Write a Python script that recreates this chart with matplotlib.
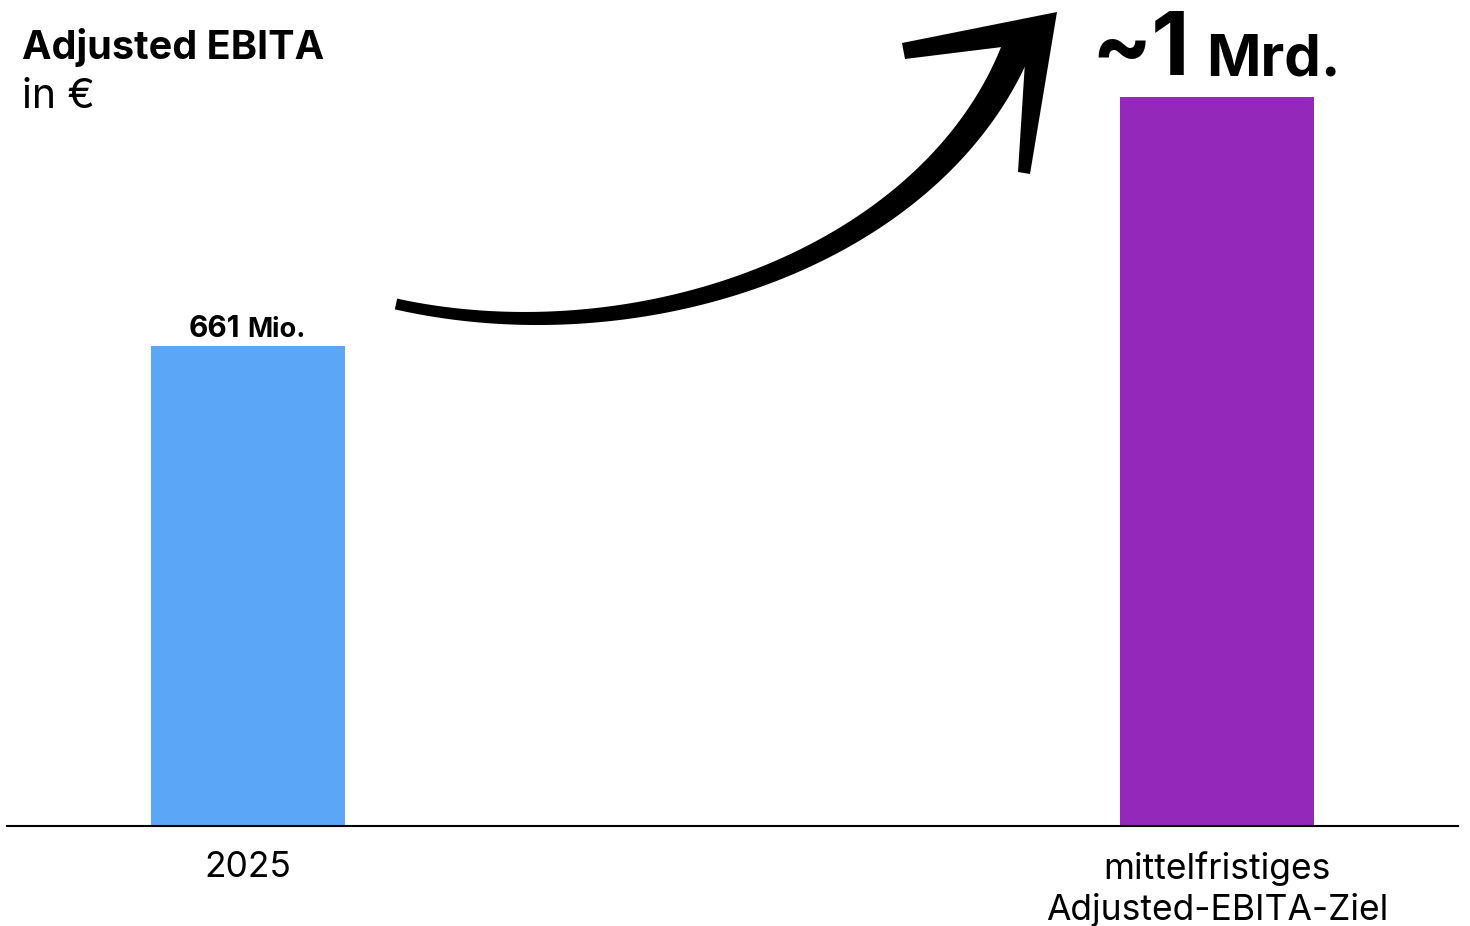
import numpy as np
import matplotlib.pyplot as plt
from matplotlib.patches import Polygon

# =====================
# DATA
# =====================
categories = ["2025", "mittelfristiges\nAdjusted-EBITA-Ziel"]
values = [661, 1003]
colors = ["#5BA6F6", "#9328BA"]
value_big = ["661", "~1"]
value_unit = ["Mio.", "Mrd."]

W, H = 1470, 926

plt.rcParams.update({
    "font.family": ["Inter", "DejaVu Sans"],
})

fig = plt.figure(figsize=(W / 100, H / 100), dpi=100)

# main axes: baseline at y=826 px, spans x 7..1458 px
ax = fig.add_axes([7 / W, (H - 826) / H, 1451 / W, 826 / H])
x = np.arange(len(values))
ax.bar(x, values, width=0.2, color=colors)
ax.set_xlim(-0.2487, 1.2487)
ax.set_ylim(0, 1137)

for s in ["top", "right", "left"]:
    ax.spines[s].set_visible(False)
ax.spines["bottom"].set_linewidth(1.5)
ax.set_yticks([])
ax.set_xticks(x)
ax.set_xticklabels(categories, fontsize=25.5, linespacing=1.27)
ax.tick_params(axis="x", length=0, pad=18)

# value labels
ax.annotate(value_big[0], (x[0], values[0]), xytext=(-5.8, 6.5), textcoords="offset points",
            ha="right", va="baseline", fontsize=21.5, fontweight="bold")
ax.annotate(value_unit[0], (x[0], values[0]), xytext=(-0.7, 6.5), textcoords="offset points",
            ha="left", va="baseline", fontsize=19.5, fontweight="bold")
ax.annotate(value_big[1], (x[1], values[1]), xytext=(-19.5, 16), textcoords="offset points",
            ha="right", va="baseline", fontsize=64, fontweight="bold")
ax.annotate(value_unit[1], (x[1], values[1]), xytext=(-7.5, 16), textcoords="offset points",
            ha="left", va="baseline", fontsize=42, fontweight="bold")

# title
fig.text(22 / W, 1 - 59 / H, "Adjusted EBITA", fontsize=28.5, fontweight="bold",
         ha="left", va="baseline")
fig.text(22 / W, 1 - 108 / H, "in €", fontsize=29.5, ha="left", va="baseline")

# =====================
# ARROW (decoration layer in pixel units)
# =====================
ov = fig.add_axes([0, 0, 1, 1])
ov.set_xlim(0, W)
ov.set_ylim(H, 0)
ov.axis("off")

P = np.array([[396, 304], [640, 358], [930, 258], [1016, 50]], dtype=float)
t = np.linspace(0, 1, 300)[:, None]
curve = ((1 - t) ** 3 * P[0] + 3 * (1 - t) ** 2 * t * P[1]
         + 3 * (1 - t) * t ** 2 * P[2] + t ** 3 * P[3])
d = np.gradient(curve, axis=0)
d /= np.linalg.norm(d, axis=1)[:, None]
n = np.column_stack([-d[:, 1], d[:, 0]])
w = (11 + 19 * t[:, 0] ** 1.3) / 2
poly = np.vstack([curve + n * w[:, None], (curve - n * w[:, None])[::-1]])
ov.add_patch(Polygon(poly, closed=True, color="black", lw=0))

head = [(1057, 12), (902, 43), (905, 59), (1002, 47), (1025, 62),
        (1018, 172), (1030, 174)]
ov.add_patch(Polygon(head, closed=True, color="black", lw=0))

plt.savefig("out.png", dpi=100)
